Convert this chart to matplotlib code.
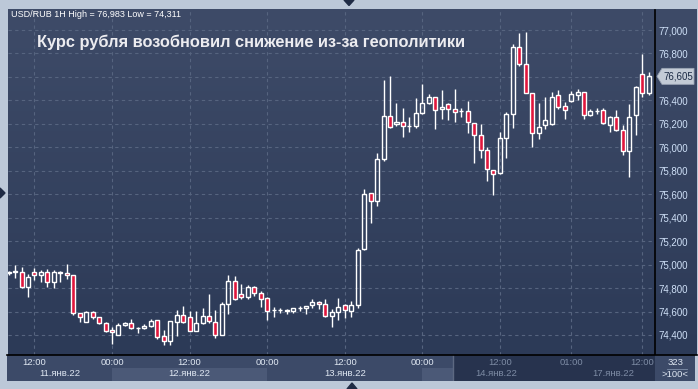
import numpy as np
import matplotlib

matplotlib.use("Agg")
import matplotlib.pyplot as plt
from matplotlib.patches import Rectangle, Polygon
from matplotlib.colors import LinearSegmentedColormap
from matplotlib.lines import Line2D
import matplotlib.transforms as mtransforms

plt.rcParams["font.family"] = ["Liberation Sans", "DejaVu Sans"]

# USD/RUB hourly candles
opens = [74925, 74940, 74940, 74807, 74934, 74909, 74934, 74849, 74934, 74926,
         74909, 74587, 74513, 74593, 74550, 74500, 74443, 74400, 74483, 74500,
         74457, 74457, 74474, 74525, 74389, 74346, 74508, 74568, 74550, 74437,
         74500, 74559, 74508, 74402, 74664, 74858, 74747, 74721, 74807, 74755,
         74713, 74611, 74611, 74613, 74602, 74628, 74628, 74653, 74681, 74662,
         74564, 74593, 74656, 74607, 74653, 75130, 75608, 75540, 75898, 76264,
         76196, 76213, 76185, 76185, 76290, 76380, 76426, 76324, 76367, 76324,
         76312, 76307, 76205, 76102, 75974, 75804, 75778, 76077, 76281, 76853,
         76708, 76460, 76119, 76188, 76196, 76443, 76355, 76395, 76443, 76471,
         76273, 76309, 76318, 76188, 76261, 76148, 75968, 76273, 76622, 76463]
highs = [74948, 74997, 74977, 74917, 74968, 74954, 74960, 74954, 74948, 75005,
         74915, 74590, 74602, 74607, 74553, 74513, 74471, 74500, 74508, 74534,
         74466, 74494, 74534, 74528, 74443, 74522, 74613, 74647, 74605, 74605,
         74628, 74749, 74613, 74684, 74911, 74903, 74835, 74824, 74818, 74772,
         74727, 74641, 74630, 74624, 74630, 74647, 74647, 74707, 74690, 74704,
         74622, 74713, 74664, 74690, 75144, 75642, 75612, 75954, 76574, 76608,
         76378, 76333, 76256, 76418, 76540, 76457, 76430, 76486, 76380, 76497,
         76333, 76395, 76208, 76199, 76000, 75806, 76130, 76298, 76881, 76975,
         76983, 76463, 76375, 76431, 76471, 76488, 76386, 76480, 76494, 76474,
         76329, 76333, 76333, 76264, 76318, 76188, 76367, 76520, 76795, 76642]
lows = [74915, 74883, 74800, 74721, 74869, 74855, 74807, 74798, 74855, 74875,
        74568, 74508, 74508, 74539, 74497, 74423, 74321, 74397, 74476, 74449,
        74414, 74449, 74471, 74368, 74311, 74318, 74394, 74500, 74432, 74432,
        74497, 74505, 74377, 74398, 74579, 74700, 74709, 74709, 74732, 74641,
        74528, 74556, 74590, 74579, 74590, 74602, 74579, 74628, 74624, 74556,
        74466, 74525, 74547, 74556, 74633, 75125, 75357, 75502, 75881, 76168,
        76185, 76090, 76133, 76168, 76288, 76367, 76159, 76241, 76233, 76213,
        76256, 76125, 75869, 75909, 75710, 75596, 75775, 75911, 76168, 76693,
        76460, 76005, 76073, 76159, 76190, 76329, 76244, 76390, 76403, 76244,
        76270, 76281, 76195, 76130, 76139, 75934, 75749, 76102, 76431, 76443]
closes = [74940, 74945, 74807, 74892, 74909, 74934, 74849, 74934, 74930, 74909,
          74587, 74550, 74593, 74550, 74500, 74437, 74423, 74483, 74500, 74457,
          74460, 74474, 74519, 74385, 74346, 74519, 74568, 74508, 74437, 74500,
          74559, 74517, 74402, 74664, 74858, 74704, 74721, 74807, 74755, 74709,
          74607, 74609, 74610, 74602, 74628, 74626, 74645, 74681, 74664, 74564,
          74596, 74639, 74611, 74656, 75122, 75599, 75540, 75898, 76264, 76171,
          76213, 76179, 76186, 76290, 76375, 76426, 76321, 76341, 76324, 76303,
          76310, 76213, 76102, 75974, 75812, 75770, 76077, 76281, 76853, 76708,
          76463, 76119, 76176, 76233, 76431, 76346, 76318, 76452, 76471, 76273,
          76309, 76310, 76205, 76261, 76148, 75968, 76261, 76517, 76463, 76605]

time_ticks = [4, 16, 28, 40, 52, 64, 76, 87, 98]
time_labels = ["12:00", "00:00", "12:00", "00:00", "12:00", "00:00", "12:00", "01:00", "12:00"]
day_labels = ["11.янв.22", "12.янв.22", "13.янв.22", "14.янв.22", "17.янв.22"]
day_starts = [0, 16, 40, 64, 87]
price_ticks = list(range(74400, 77001, 200))
last_price = 76605
header = "USD/RUB 1H High = 76,983 Low = 74,311"
title = "Курс рубля возобновил снижение из-за геополитики"

W, H = 698, 389
UP_FILL = "none"
DOWN_FILL = "#e0163c"
GRID = "#56647f"


def rect(x0, y0, x1, y1):
    return [x0 / W, 1 - y1 / H, (x1 - x0) / W, (y1 - y0) / H]


fig = plt.figure(figsize=(W / 100, H / 100), dpi=100, facecolor="#bcc8d8")

# panel background gradient
bg = fig.add_axes(rect(8, 9, 697, 355))
cmap = LinearSegmentedColormap.from_list("panel", ["#2c3a57", "#3e4b68"])
bg.imshow(np.linspace(0, 1, 256).reshape(-1, 1), aspect="auto", cmap=cmap,
          origin="lower", extent=[0, 1, 0, 1])
bg.axis("off")

ax = fig.add_axes(rect(8, 9.5, 655.3, 354.7))
ax.set_facecolor("none")
n = len(opens)
ax.set_xlim(-0.09, 100.03)
ax.set_ylim(74232, 77175)

for t in price_ticks:
    ax.axhline(t, color=GRID, lw=0.8, ls=(0, (3, 3)), zorder=1)
for t in time_ticks:
    ax.axvline(t, color=GRID, lw=0.8, ls=(0, (3, 3)), zorder=1)

x = np.arange(n)
o = np.array(opens)
c = np.array(closes)
hi = np.array(highs)
lo = np.array(lows)
top = np.maximum(o, c)
bot = np.minimum(o, c)
ax.vlines(x, top, hi, color="white", lw=1, zorder=2)
ax.vlines(x, lo, bot, color="white", lw=1, zorder=2)
fills = [UP_FILL if cc >= oo else DOWN_FILL for oo, cc in zip(o, c)]
ax.bar(x, np.maximum(top - bot, 1), bottom=bot, width=0.62, color=fills,
       edgecolor="white", linewidth=1, zorder=3)

# the last-price box hides the nearest tick label
ax.yaxis.tick_right()
ax.set_yticks(price_ticks)
ax.set_yticklabels(["" if abs(v - last_price) < 60 else f"{v:,}" for v in price_ticks])
ax.tick_params(axis="y", length=0, pad=2.5, labelsize=7, labelcolor="#cfe0f7")
ax.set_xticks([])
for s in ["top", "left", "bottom"]:
    ax.spines[s].set_visible(False)
ax.spines["right"].set_color("black")
ax.spines["right"].set_linewidth(1.2)

fig.text(11 / W, 1 - 17.3 / H, header, fontsize=6.5, color="white", va="baseline")
fig.text(37 / W, 1 - 46.7 / H, title, fontsize=11.8, fontweight="bold",
         color="#ececf0", va="baseline")

# last price marker
tr = mtransforms.blended_transform_factory(fig.transFigure, ax.transData)
hh = 8 / 0.1173
marker = Polygon([(657 / W, last_price), (662 / W, last_price + hh), (694 / W, last_price + hh),
                  (694 / W, last_price - hh), (662 / W, last_price - hh)],
                 closed=True, transform=tr, facecolor="#c3cbd6", edgecolor="#9aa4b4",
                 lw=0.6, clip_on=False)
fig.add_artist(marker)
fig.text(663 / W, 0, f"{last_price:,}", fontsize=7, color="#1b2a44", va="center",
         transform=tr).set_position((663 / W, last_price))

# time strip
sx = fig.add_axes(rect(7, 355, 655.3, 381))
sx.set_xlim(-0.25, 100.03)
sx.set_ylim(0, 2)
sx.axis("off")
sx.add_patch(Rectangle((-1, 0), 103, 2, color="#3c4a68", lw=0))
for k in (1, 3):
    end = day_starts[k + 1] if k + 1 < len(day_starts) else n
    sx.add_patch(Rectangle((day_starts[k], 0), end - day_starts[k], 1, color="#4b5977", lw=0))
shade_from = 68.75
sx.add_patch(Rectangle((shade_from, 0), 102 - shade_from, 2, color="#27334e", lw=0))
sx.axvline(shade_from, color="#5d6982", lw=1)
for t, lab in zip(time_ticks, time_labels):
    col = "#dfe7f2" if t < shade_from else "#7d8ba4"
    sx.text(t, 1.42, lab, ha="center", va="center", fontsize=6.8, color=col)
for k, lab in enumerate(day_labels):
    end = day_starts[k + 1] if k + 1 < len(day_starts) else n
    mid = (day_starts[k] + end) / 2
    col = "#dfe7f2" if mid < shade_from else "#7d8ba4"
    sx.text(mid, 0.55, lab, ha="center", va="center", fontsize=6.8, color=col)

fig.add_artist(Line2D([7 / W, 697 / W], [1 - 354.7 / H, 1 - 354.7 / H], color="black", lw=1.2))

# corner box
cb = fig.add_axes(rect(655.3, 355, 695, 381))
cb.axis("off")
cb.add_patch(Rectangle((0, 0), 1, 1, color="#3c4a68", lw=0, transform=cb.transAxes))
cb.text(0.5, 0.73, "323", ha="center", va="center", fontsize=6.8, color="#dfe7f2")
cb.plot([0.3, 0.8], [0.48, 0.48], color="#8090aa", lw=0.6)
cb.text(0.5, 0.26, ">100<", ha="center", va="center", fontsize=6.8, color="#dfe7f2")
cb.set_xlim(0, 1)
cb.set_ylim(0, 1)

# little scroll arrows on the frame
arrow = "#1f2b45"
for pts in ([(344, 0), (354, 0), (349, 5.5)],
            [(347, 389), (357, 389), (352, 383)],
            [(0, 188), (0, 198), (5, 193)]):
    fig.add_artist(Polygon([(px / W, 1 - py / H) for px, py in pts], closed=True,
                           color=arrow, transform=fig.transFigure))

fig.savefig("out.png", dpi=100, facecolor=fig.get_facecolor())
